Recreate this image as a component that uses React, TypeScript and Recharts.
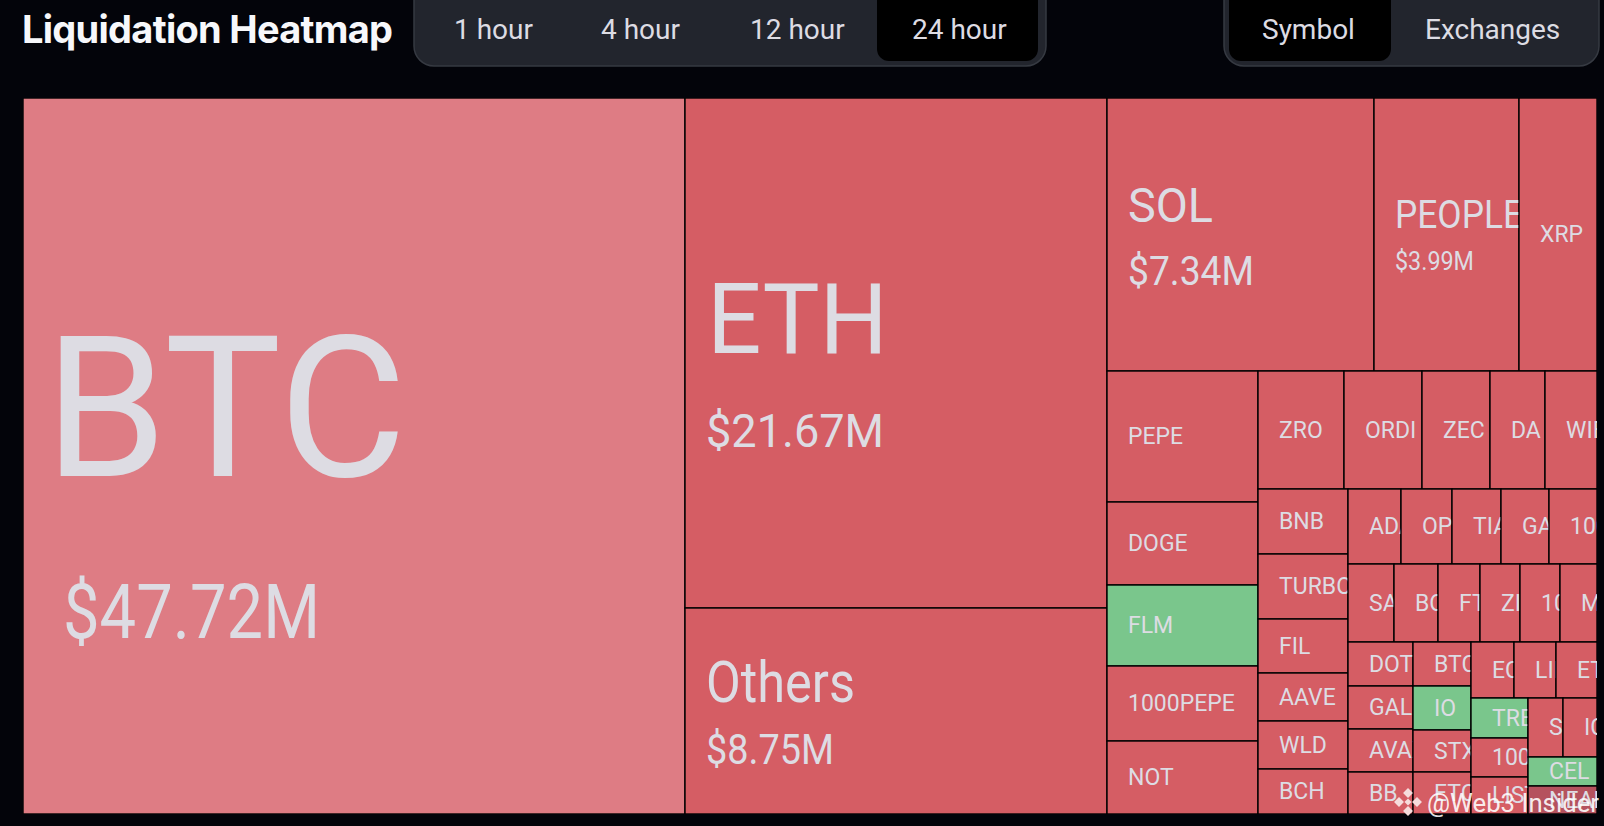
import { Treemap } from 'recharts';

// symbols and their 24h liquidations in $M, largest first
const SYMBOLS = [
  'BTC', 'ETH', 'Others', 'SOL', 'PEOPLE', 'XRP',
  'PEPE', 'DOGE', 'FLM', '1000PEPE', 'NOT',
  'ZRO', 'ORDI', 'ZEC', 'DA', 'WIF',
  'BNB', 'TURBO', 'FIL', 'AAVE', 'WLD', 'BCH',
  'ADA', 'OP', 'TIA', 'GALA', '1000BONK',
  'SAGA', 'BOME', 'FTM', 'ZIL', '1000SHIB', 'MKR',
  'DOT', 'GAL', 'AVAX', 'BB',
  'BTCDOM', 'IO', 'STX', 'ETC',
  'ECHO', 'LINK', 'ETHFI',
  'TREMP', '1000RATS', 'LISTA',
  'SUI', 'ICP', 'CEL', 'NEAR',
];
const AMOUNTS = [
  47.72, 21.67, 8.75, 7.34, 3.99, 2.13,
  1.99, 1.26, 1.23, 1.14, 1.11,
  1.017, 0.923, 0.804, 0.65, 0.619,
  0.59, 0.588, 0.493, 0.436, 0.434, 0.408,
  0.402, 0.387, 0.372, 0.364, 0.363,
  0.362, 0.346, 0.33, 0.316, 0.315, 0.293,
  0.288, 0.283, 0.282, 0.275,
  0.258, 0.257, 0.247, 0.246,
  0.244, 0.236, 0.229,
  0.228, 0.222, 0.214,
  0.208, 0.203, 0.201, 0.197,
];
const SHORT_SIDE = ['FLM', 'IO', 'TREMP', 'CEL'];
const PALE = ['BTC'];
const DEEP = ['NEAR'];
const PERIODS = ['1 hour', '4 hour', '12 hour', '24 hour'];
const GROUPINGS = ['Symbol', 'Exchanges'];

const tableData = SYMBOLS.map((name, i) => ({ name, value: AMOUNTS[i] }));

// the source font is narrower than Roboto, so the big labels get a fixed length
const BIG_LABELS: Record<string, any> = {
  BTC: { size: 197, x: 21.5, y: 378, len: 362, valueSize: 76, valueX: 40, valueY: 540, valueLen: 257 },
  ETH: { size: 98, x: 22, y: 255, len: 181, valueSize: 47, valueX: 21, valueY: 349, valueLen: 178 },
  Others: { size: 57, x: 21, y: 94, len: 149, valueSize: 42, valueX: 21, valueY: 156, valueLen: 128 },
  SOL: { size: 49, x: 21, y: 124, len: 85, valueSize: 40, valueX: 21, valueY: 187, valueLen: 126 },
  PEOPLE: { size: 38, x: 21, y: 130, len: 128, valueSize: 25, valueX: 21, valueY: 172, valueLen: 79 },
};

const LABEL_FONT = 'Roboto, sans-serif';
const LABEL_COLOR = '#dddce3';

function cellColor(name: string) {
  if (PALE.includes(name)) return '#de7c84';
  if (DEEP.includes(name)) return '#b5525e';
  if (SHORT_SIDE.includes(name)) return '#7ac68c';
  return '#d55d64';
}

function Cell(props: any) {
  const { x, y, width, height, name, value, children } = props;
  if (children && children.length) return null;
  const big = BIG_LABELS[name];
  return (
    <g>
      <rect x={x} y={y} width={width} height={height} fill={cellColor(name)} stroke="#000" strokeWidth={1.4} />
      {/* nested svg clips long symbols at the cell edge */}
      <svg x={x} y={y} width={width} height={height} fontFamily={LABEL_FONT} fill={LABEL_COLOR} stroke="none">
        {big ? (
          <>
            <text x={big.x} y={big.y} fontSize={big.size} textLength={big.len} lengthAdjust="spacingAndGlyphs">{name}</text>
            <text x={big.valueX} y={big.valueY} fontSize={big.valueSize} textLength={big.valueLen} lengthAdjust="spacingAndGlyphs">
              {`$${value.toFixed(2)}M`}
            </text>
          </>
        ) : (
          <text x={21} y={height / 2} fontSize={23} dominantBaseline="central">{name}</text>
        )}
      </svg>
    </g>
  );
}

function Header() {
  const periodX = [454, 601, 750, 912];
  const groupX = [1262, 1425];
  return (
    <g fontFamily={LABEL_FONT} fontSize={28} fill={LABEL_COLOR}>
      <text x={22} y={43} fontFamily="Inter, sans-serif" fontWeight={700} fontSize={38} fill="#f7f8fb"
        textLength={371} lengthAdjust="spacing">
        Liquidation Heatmap
      </text>
      <rect x={414} y={-20} width={632} height={86} rx={20} fill="#22252d" stroke="#363a42" strokeWidth={1.5} />
      <rect x={877} y={-20} width={161} height={81} rx={12} fill="#000" />
      {PERIODS.map((p, i) => (
        <text key={p} x={periodX[i]} y={39}>{p}</text>
      ))}
      <rect x={1224} y={-20} width={375} height={86} rx={20} fill="#22252d" stroke="#363a42" strokeWidth={1.5} />
      <rect x={1229} y={-20} width={162} height={81} rx={12} fill="#000" />
      {GROUPINGS.map((g, i) => (
        <text key={g} x={groupX[i]} y={39}>{g}</text>
      ))}
    </g>
  );
}

function Watermark() {
  const diamonds = [[1408, 793], [1399, 802], [1417, 802], [1408, 811]];
  return (
    <g>
      {diamonds.map(([cx, cy]) => (
        <rect key={`${cx}-${cy}`} x={cx - 3.5} y={cy - 3.5} width={7} height={7}
          transform={`rotate(45 ${cx} ${cy})`} fill="#f6dcdc" />
      ))}
      <rect x={1405.5} y={799.5} width={5} height={5} transform="rotate(45 1408 802)" fill="#f6dcdc" />
      <text x={1427} y={812} fontFamily={LABEL_FONT} fontSize={25} fill="#fff" fillOpacity={0.9}
        textLength={172} lengthAdjust="spacingAndGlyphs">
        @Web3 Insider
      </text>
    </g>
  );
}

export default function App() {
  return (
    <div style={{ position: 'fixed', left: 0, top: 0, width: 1604, height: 826, background: '#03040a', overflow: 'hidden' }}>
      <div style={{ position: 'absolute', left: 23, top: 98 }}>
        <Treemap
          width={1574}
          height={716}
          data={tableData}
          dataKey="value"
          nameKey="name"
          type="flat"
          stroke="#000"
          isAnimationActive={false}
          content={<Cell />}
        />
      </div>
      <svg width={1604} height={826} style={{ position: 'absolute', left: 0, top: 0, pointerEvents: 'none' }}>
        <Header />
        <Watermark />
      </svg>
    </div>
  );
}
